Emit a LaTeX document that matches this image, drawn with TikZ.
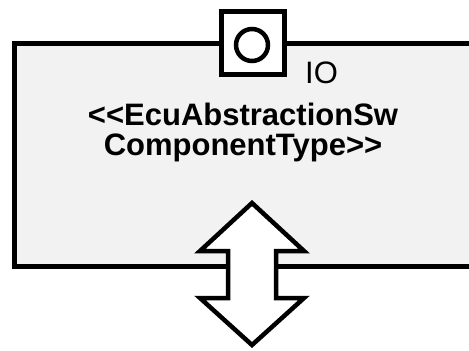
\documentclass[tikz,border=0pt]{standalone}
\usepackage{fontspec}
\setmainfont{Liberation Sans}
\usetikzlibrary{positioning}
\definecolor{compfill}{gray}{0.95}
\tikzset{ comp/.style = { rectangle
                        , draw
                        , line width     = 5pt
                        , fill           = compfill
                        , outer sep      = 0pt
                        , minimum width  = 540pt
                        , minimum height = 223pt
                        },
          port/.style = { rectangle
                        , draw
                        , line width   = 5pt
                        , fill         = white
                        , outer sep    = 0pt
                        , minimum size = 63pt
                        },
          ring/.style = { circle
                        , draw
                        , line width   = 4.5pt
                        , inner sep    = 0pt
                        , minimum size = 32pt
                        },
          txt/.style  = { inner sep = 0pt
                        , font      = \fontsize{31}{30}\selectfont
                        }
        }

\begin{document}
\begin{tikzpicture}[x=1pt, y=-1pt]
    \useasboundingbox (0,0) rectangle (469,351);
    \clip (0,0) rectangle (469,351);
    % component box, runs off to the right
    \node[comp, anchor=north west] (ecu) at (14,43) {};
    \node[txt, align=center, font=\fontsize{31}{30}\selectfont\bfseries] (stereo) at (243,132)
        {{<}{<}EcuAbstractionSw\\ComponentType{>}{>}};
    % port on the top edge
    \node[port] (io) at (253,43) {};
    \node[ring] (iosym) at (252,45) {};
    \node[txt, anchor=base west] (iolbl) at (305,83) {IO};
    % double arrow across the bottom edge
    \coordinate (dbl) at (252,274);
    \draw[line width=4.5pt, fill=white, miter limit=10]
        (dbl) ++(0,-71) -- ++(52,48) -- ++(-28,0) -- ++(0,47) -- ++(28,0)
        -- ++(-52,47) -- ++(-52,-47) -- ++(28,0) -- ++(0,-47) -- ++(-28,0) -- cycle;
\end{tikzpicture}
\end{document}
